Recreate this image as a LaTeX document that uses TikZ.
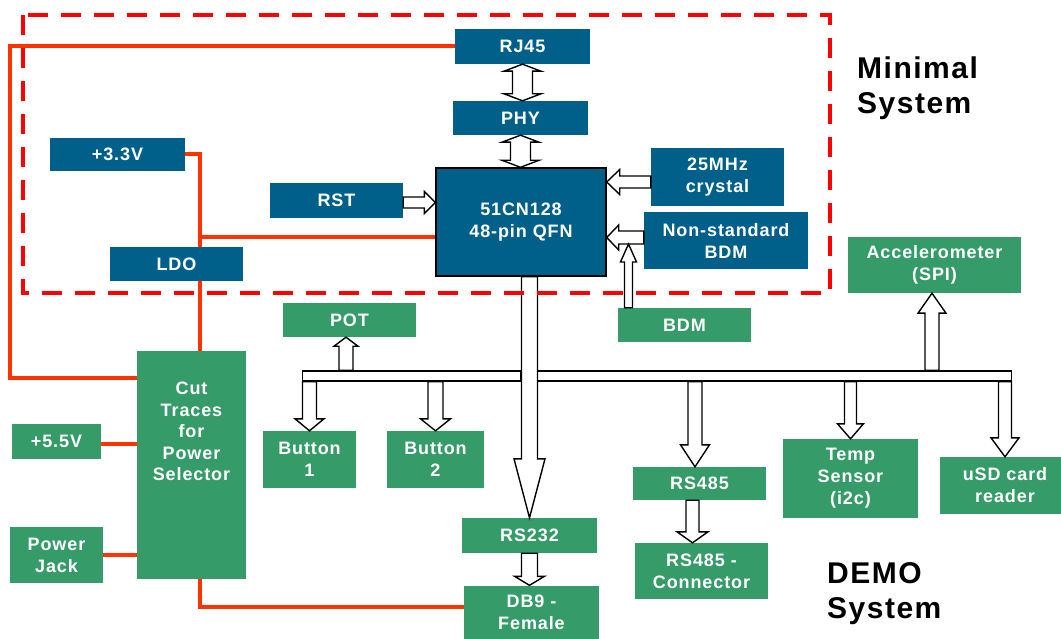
\documentclass[tikz,border=0pt]{standalone}
\usepackage{fontspec}
\newfontfamily\boxfont{Liberation Sans}[LetterSpace=5]
\usetikzlibrary{calc}

\definecolor{mcublue}{RGB}{0,96,138}
\definecolor{demogreen}{RGB}{53,155,104}
\definecolor{pwrred}{RGB}{255,51,0}
\definecolor{dashred}{RGB}{255,0,0}

% hollow block arrow: from, to, shaft half width, head half width, head length
\newcommand{\fatarrow}[5]{%
	\path let \p1 = #1, \p2 = #2 in \pgfextra{%
		\pgfmathsetmacro\fatang{atan2(\y2-\y1,\x2-\x1)}%
		\pgfmathsetmacro\fatlen{veclen(\x2-\x1,\y2-\y1)}%
		\xdef\fatang{\fatang}\xdef\fatlen{\fatlen}};
	\draw [fat, shift = {#1}, rotate = \fatang] (0,-#3) -- (\fatlen-#5,-#3) -- (\fatlen-#5,-#4)
		-- (\fatlen,0) -- (\fatlen-#5,#4) -- (\fatlen-#5,#3) -- (0,#3) -- cycle;}
% same, with a head at both ends
\newcommand{\fatboth}[5]{%
	\path let \p1 = #1, \p2 = #2 in \pgfextra{%
		\pgfmathsetmacro\fatang{atan2(\y2-\y1,\x2-\x1)}%
		\pgfmathsetmacro\fatlen{veclen(\x2-\x1,\y2-\y1)}%
		\xdef\fatang{\fatang}\xdef\fatlen{\fatlen}};
	\draw [fat, shift = {#1}, rotate = \fatang] (#5,-#3) -- (\fatlen-#5,-#3) -- (\fatlen-#5,-#4)
		-- (\fatlen,0) -- (\fatlen-#5,#4) -- (\fatlen-#5,#3) -- (#5,#3) -- (#5,#4) -- (0,0)
		-- (#5,-#4) -- cycle;}

\begin{document}
\begin{tikzpicture}[x = 1pt, y = -1pt,
	wh/.style 2 args = {minimum width = #1pt, minimum height = #2pt},
	box/.style = {fill = mcublue, text = white, inner sep = 0pt, align = center,
		font = \boxfont\bfseries\fontsize{18}{22}\selectfont},
	gbox/.style = {box, fill = demogreen},
	pwr/.style = {draw = pwrred, line width = 4pt},
	fat/.style = {draw = black, fill = white, line width = 1.4pt},
	title/.style = {anchor = north west, inner sep = 0pt, align = left,
		font = \boxfont\bfseries\fontsize{30}{35}\selectfont}]
	\useasboundingbox (0,0) rectangle (1061,639);

	% Minimal system
	\node [box, wh = {135}{35}] (rj45) at (522.5,46.5) {RJ45};
	\node [box, wh = {135}{34}] (phy) at (520.5,118) {PHY};
	\node [box, wh = {170}{108}, draw = black, line width = 1.4pt] (mcu) at (521,222) {51CN128\\48-pin QFN};
	\node [box, wh = {133}{58}] (xtal) at (717.5,177) {25MHz\\crystal};
	\node [box, wh = {164}{57}] (nsbdm) at (726,240.5) {Non-standard\\BDM};
	\node [box, wh = {135}{33}] (vdd) at (117.5,154.5) {+3.3V};
	\node [box, wh = {133}{35}] (rst) at (336.5,200.5) {RST};
	\node [box, wh = {133}{34}] (ldo) at (176.5,264) {LDO};

	% Demo system
	\node [gbox, wh = {173}{56}] (accel) at (934.5,265) {Accelerometer\\(SPI)};
	\node [gbox, wh = {133}{34}] (bdm) at (684.5,325) {BDM};
	\node [gbox, wh = {133}{34}] (pot) at (349.5,320) {POT};
	\node [gbox, wh = {109}{228}] (cut) at (191.5,465) {};
	\node [box, fill = none, anchor = north, font = \boxfont\bfseries\fontsize{18}{21.5}\selectfont]
		(cuttext) at ([yshift = -31pt]cut.north) {Cut\\Traces\\for\\Power\\Selector};
	\node [gbox, wh = {89}{35}] (vin) at (56.5,441.5) {+5.5V};
	\node [gbox, wh = {93}{56}] (jack) at (56.5,555) {Power\\Jack};
	\node [gbox, wh = {93}{57}] (btn1) at (309.5,459.5) {Button\\1};
	\node [gbox, wh = {97}{57}] (btn2) at (435.5,459.5) {Button\\2};
	\node [gbox, wh = {135}{35}] (rs232) at (529.5,535.5) {RS232};
	\node [gbox, wh = {135}{53}] (db9) at (531.5,612) {DB9 -\\Female};
	\node [gbox, wh = {133}{33}] (rs485) at (699.5,483.5) {RS485};
	\node [gbox, wh = {133}{56}] (rsconn) at (701.5,571) {RS485 -\\Connector};
	\node [gbox, wh = {135}{79}] (temp) at (850.5,478.5) {Temp\\Sensor\\(i2c)};
	\node [gbox, wh = {130}{57}] (usd) at (1005,485.5) {uSD card\\reader};

	% power wiring
	\coordinate (ldotap) at (200,237);
	\coordinate (lcorner) at (10,378);
	\coordinate (dbcorner) at (200,607);
	\draw [pwr] (rj45.west) -| (lcorner) -- (lcorner -| cut.west);
	\draw [pwr] (vdd.east) -| (ldotap |- ldo.north);
	\draw [pwr] (ldotap) -- (ldotap -| mcu.west);
	\draw [pwr] (ldotap |- ldo.south) -- (ldotap |- cut.north);
	\draw [pwr] (ldotap |- cut.south) -- (dbcorner) -- (dbcorner -| db9.west);
	\draw [pwr] ([yshift = -2.5pt]vin.east) -- ([yshift = -2.5pt]vin.east -| cut.west);
	\draw [pwr] (jack.east) -- (jack.east -| cut.west);

	% bus
	\node [fat, inner sep = 0pt, wh = {218.5}{10}] (busl) at (411.75,376) {};
	\node [fat, inner sep = 0pt, wh = {476.5}{10}] (busr) at (773.25,376) {};

	% block arrows
	\fatboth{(rj45.south)}{(rj45.south |- phy.north)}{10}{18.5}{7}
	\fatboth{(phy.south)}{(phy.south |- mcu.north)}{10}{18.5}{7}
	\fatarrow{($(rst.east)+(0,2)$)}{($(rst.east -| mcu.west)+(0,2)$)}{5.5}{11}{11}
	\fatarrow{($(xtal.west)+(0,5)$)}{($(xtal.west -| mcu.east)+(0,5)$)}{6}{12.5}{13}
	\fatarrow{($(nsbdm.west)+(0,-3)$)}{($(nsbdm.west -| mcu.east)+(0,-3)$)}{6.5}{12.5}{12}
	\coordinate (bdmfoot) at ($(bdm.north)+(-56,0)$);
	\coordinate (bdmtip) at ($(nsbdm.west)+(0,3.5)$);
	\fatarrow{(bdmfoot)}{(bdmfoot |- bdmtip)}{4}{8}{18}
	\fatarrow{(rs232.north |- mcu.south)}{(rs232.north)}{8}{15.5}{59}
	\fatarrow{(rs232.south)}{(rs232.south |- db9.north)}{8}{15}{9}
	\fatarrow{($(pot.south |- busl.north)+(-3.5,0)$)}{($(pot.south)+(-3.5,0)$)}{7}{12}{9}
	\fatarrow{(btn1.north |- busl.south)}{(btn1.north)}{7}{14.5}{12}
	\fatarrow{(btn2.north |- busl.south)}{(btn2.north)}{7.5}{15}{12}
	\fatarrow{($(rs485.north |- busr.south)+(-4.5,0)$)}{($(rs485.north)+(-4.5,0)$)}{7}{14.5}{22}
	\fatarrow{(temp.north |- busr.south)}{(temp.north)}{6}{13}{15}
	\fatarrow{(usd.north |- busr.south)}{(usd.north)}{6.5}{14}{19}
	\fatarrow{($(accel.south |- busr.north)+(-2.5,0)$)}{($(accel.south)+(-2.5,0)$)}{7}{14}{20}
	\fatarrow{($(rs485.south)+(-7,0)$)}{($(rs485.south |- rsconn.north)+(-7,0)$)}{6.5}{15.5}{11}

	% minimal system frame
	\draw [dashred, line width = 4pt, dash pattern = on 20pt off 13pt] (23,15) rectangle (830,293);

	\node [title] (mintitle) at (857,57) {Minimal\\System};
	\node [title] (demotitle) at (827,562) {DEMO\\System};
\end{tikzpicture}
\end{document}
